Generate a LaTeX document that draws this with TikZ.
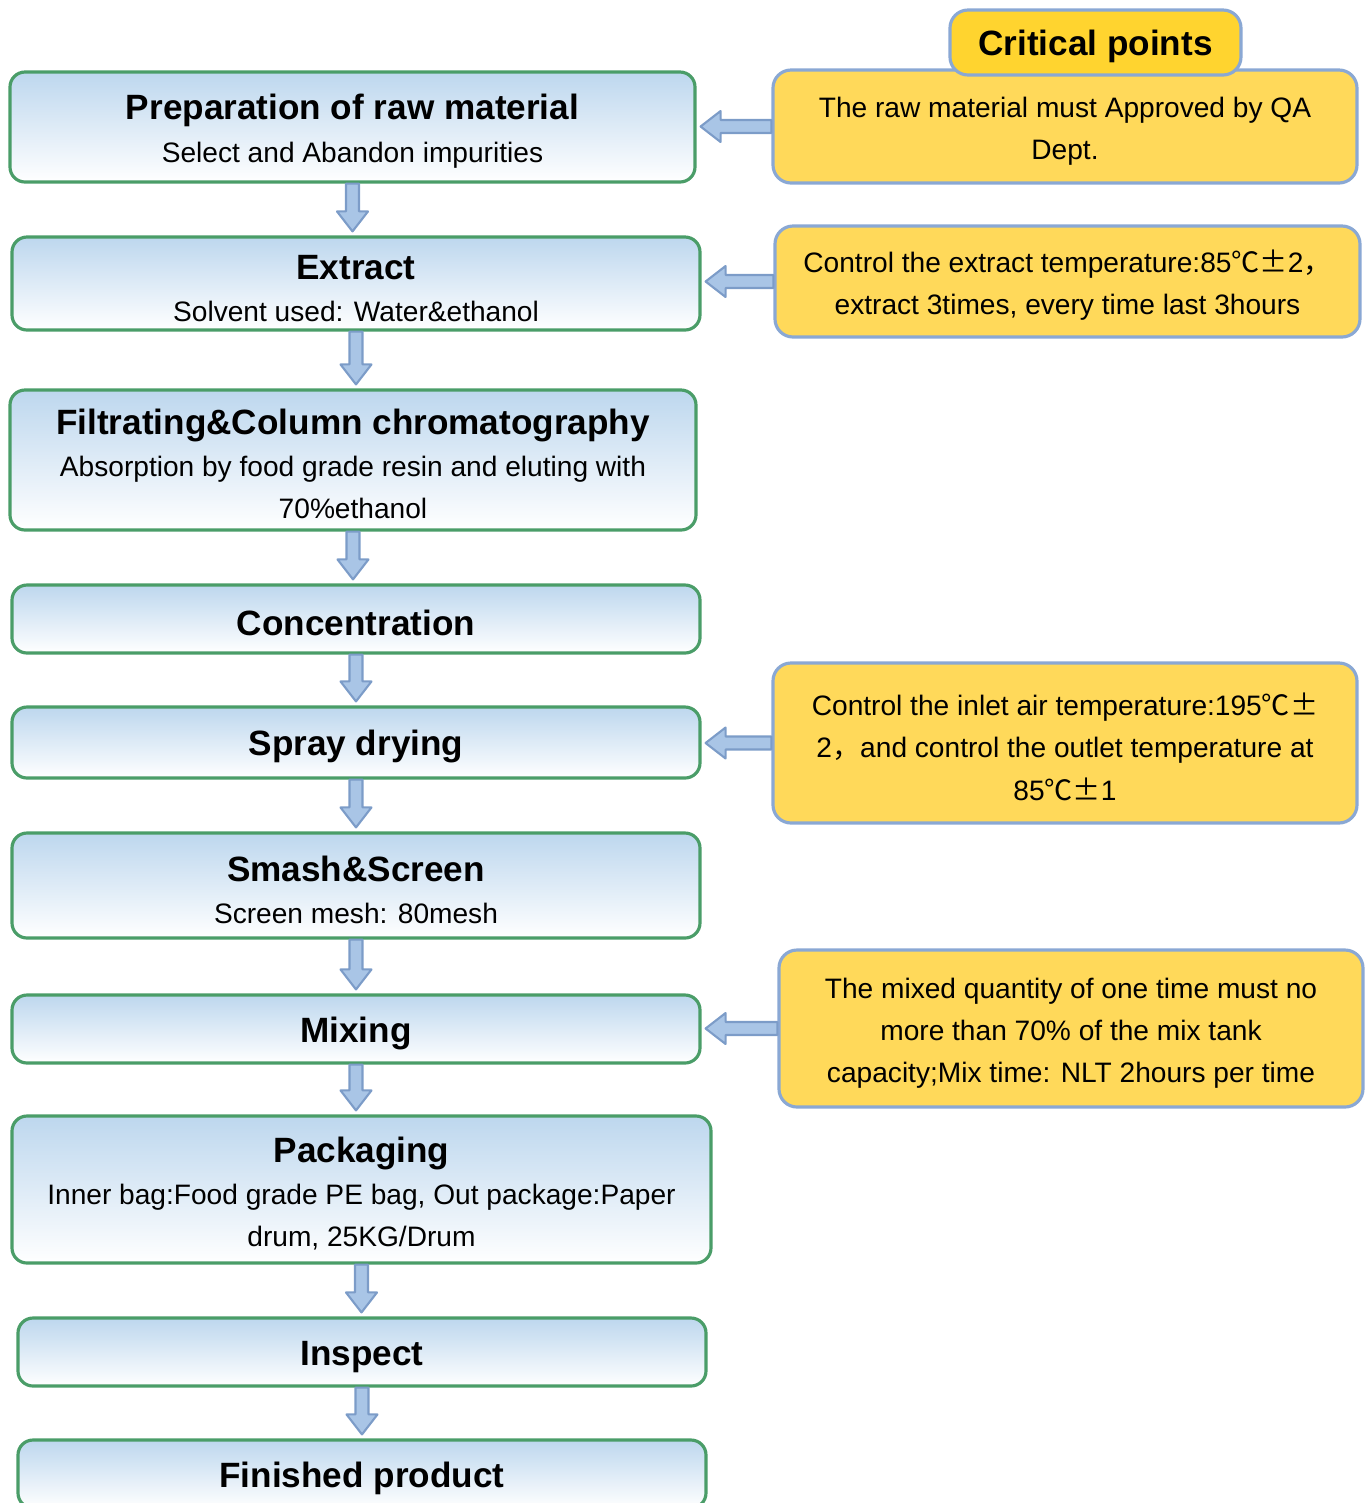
\documentclass[tikz,border=0pt]{standalone}
\usepackage{fontspec}
\setmainfont{Liberation Sans}
\newfontfamily\cjkfont{Noto Sans CJK SC}
\usetikzlibrary{calc}

\definecolor{stepblue}{HTML}{BDD7EE}
\definecolor{stepgreen}{HTML}{4A9D68}
\definecolor{noteyellow}{HTML}{FFD95A}
\definecolor{headyellow}{HTML}{FFD42F}
\definecolor{noteline}{HTML}{8AA8D4}
\definecolor{arrowfill}{HTML}{A9C5E6}
\definecolor{arrowline}{HTML}{7C9CC8}

\newcommand{\steptitle}{\fontsize{10}{12}\selectfont\bfseries\rule{0pt}{9.6pt}}
\newcommand{\notestrut}{\rule{0pt}{8.6pt}}
\newcommand{\degpm}{{\cjkfont ℃±}}
\newcommand{\wcomma}{{\cjkfont ，}}

\tikzset{
  stepbox/.style={draw=stepgreen, line width=0.9pt, rounded corners=0.15cm,
    top color=stepblue, middle color=stepblue!85, bottom color=white,
    align=center, inner sep=0pt, font=\fontsize{8}{12}\selectfont},
  notebox/.style={draw=noteline, fill=noteyellow, line width=0.9pt, rounded corners=0.18cm,
    align=center, inner sep=0pt, font=\fontsize{8}{12}\selectfont},
  blockarrow/.style={draw=arrowline, fill=arrowfill, line width=0.6pt, line join=round,
    to path={let \p1=($(\tikztotarget)!0.04cm!(\tikztostart)$),
                 \p2=($(\tikztotarget)!0.24cm!(\tikztostart)$) in
      ($(\tikztostart)!0.065cm!90:(\p1)$) -- ($(\p2)!0.065cm!90:(\p1)$)
      -- ($(\p2)!0.155cm!90:(\p1)$) -- (\p1)
      -- ($(\p2)!0.155cm!-90:(\p1)$) -- ($(\p2)!0.065cm!-90:(\p1)$)
      -- ($(\tikztostart)!0.065cm!-90:(\p1)$) -- cycle}}
}

\begin{document}
\begin{tikzpicture}
    \useasboundingbox (0,0) rectangle (13.69,-15.03);
    \clip (0,0) rectangle (13.69,-15.03);

    % process steps
    \node[stepbox, minimum width=6.85cm, minimum height=1.10cm] (prep) at (3.525,-1.27)
        {{\steptitle Preparation of raw material}\\Select and Abandon impurities};
    \node[stepbox, minimum width=6.88cm, minimum height=0.93cm] (extract) at (3.56,-2.835)
        {{\steptitle Extract}\\Solvent used: Water\&ethanol};
    \node[stepbox, minimum width=6.86cm, minimum height=1.40cm] (filt) at (3.53,-4.60)
        {{\steptitle Filtrating\&Column chromatography}\\Absorption by food grade resin and eluting with\\70\%ethanol};
    \node[stepbox, minimum width=6.88cm, minimum height=0.68cm] (conc) at (3.56,-6.19)
        {\steptitle Concentration};
    \node[stepbox, minimum width=6.88cm, minimum height=0.71cm] (spray) at (3.56,-7.425)
        {\steptitle Spray drying};
    \node[stepbox, minimum width=6.88cm, minimum height=1.05cm] (smash) at (3.56,-8.855)
        {{\steptitle Smash\&Screen}\\Screen mesh: 80mesh};
    \node[stepbox, minimum width=6.88cm, minimum height=0.68cm] (mix) at (3.56,-10.29)
        {\steptitle Mixing};
    \node[stepbox, minimum width=6.99cm, minimum height=1.47cm] (pack) at (3.615,-11.895)
        {{\steptitle Packaging}\\Inner bag:Food grade PE bag, Out package:Paper\\drum, 25KG/Drum};
    \node[stepbox, minimum width=6.88cm, minimum height=0.68cm] (insp) at (3.62,-13.52)
        {\steptitle Inspect};
    \node[stepbox, minimum width=6.88cm, minimum height=0.68cm] (fin) at (3.62,-14.74)
        {\steptitle Finished product};

    % critical points
    \node[notebox, minimum width=5.84cm, minimum height=1.13cm] (ya) at (10.65,-1.265)
        {\notestrut The raw material must Approved by QA\\Dept.};
    \node[notebox, fill=headyellow, minimum width=2.91cm, minimum height=0.65cm] (head) at (10.955,-0.425)
        {\steptitle Critical points};
    \node[notebox, minimum width=5.85cm, minimum height=1.11cm] (yb) at (10.675,-2.815)
        {\notestrut Control the extract temperature:85\degpm2\wcomma\\extract 3times, every time last 3hours};
    \node[notebox, minimum width=5.84cm, minimum height=1.60cm] (yc) at (10.65,-7.43)
        {\notestrut Control the inlet air temperature:195\degpm\\2\wcomma and control the outlet temperature at\\85\degpm1};
    \node[notebox, minimum width=5.84cm, minimum height=1.57cm] (yd) at (10.71,-10.285)
        {\notestrut The mixed quantity of one time must no\\more than 70\% of the mix tank\\capacity;Mix time: NLT 2hours per time};

    % arrows
    \foreach \a/\b in {prep/extract, extract/filt, filt/conc, conc/spray, spray/smash,
                       smash/mix, mix/pack, pack/insp, insp/fin} {
        \path[blockarrow] (\a.south) to (\a.south |- \b.north);
    }
    \foreach \a/\b in {ya/prep, yb/extract, yc/spray, yd/mix} {
        \path[blockarrow] (\a.west) to (\b.east |- \a.west);
    }
\end{tikzpicture}
\end{document}
